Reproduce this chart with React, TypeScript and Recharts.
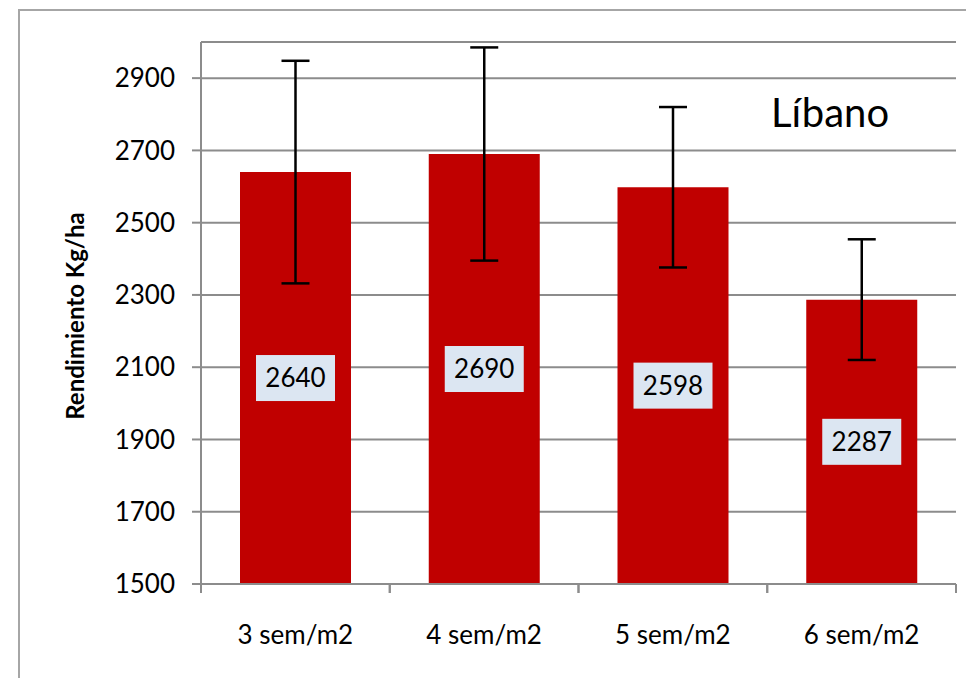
import React from 'react';
import { BarChart, Bar, XAxis, YAxis, CartesianGrid, ErrorBar, LabelList } from 'recharts';

const categories = ['3 sem/m2', '4 sem/m2', '5 sem/m2', '6 sem/m2'];
const rendimiento = [2640, 2690, 2598, 2287];
const errores = [308, 295, 222, 167];
const yTicks = [1500, 1700, 1900, 2100, 2300, 2500, 2700, 2900];

const data = categories.map((c, i) => ({ name: c, value: rendimiento[i], err: errores[i] }));

const FONT = 'Lato, "Open Sans", sans-serif';
const GRID = '#8c8c8c';
const BAND = 188.75;

const XTick = ({ x, y, payload }: any) => (
  <g>
    <line x1={x - BAND / 2} y1={y} x2={x - BAND / 2} y2={y + 9} stroke={GRID} strokeWidth={2} />
    <line x1={x + BAND / 2} y1={y} x2={x + BAND / 2} y2={y + 9} stroke={GRID} strokeWidth={2} />
    <text x={x} y={y + 60} textAnchor="middle" fill="#000" fontSize={26} fontFamily={FONT}>
      {payload.value}
    </text>
  </g>
);

const ValueBox = ({ x, y, width, height, value }: any) => {
  const cx = x + width / 2;
  const cy = y + height / 2;
  return (
    <g>
      <rect x={cx - 39.5} y={cy - 23} width={79} height={46} fill="#dce6f2" />
      <text x={cx} y={cy + 9} textAnchor="middle" fill="#000" fontSize={26} fontFamily={FONT}>
        {value}
      </text>
    </g>
  );
};

const Titles = () => (
  <g>
    <text
      x={66}
      y={308}
      transform="rotate(-90 66 308)"
      textAnchor="middle"
      dominantBaseline="central"
      fontSize={24}
      fontWeight="bold"
      fontFamily={FONT}
      fill="#000"
    >
      Rendimiento Kg/ha
    </text>
    <text x={763} y={119} fontSize={40} fontFamily={FONT} fill="#000">
      Líbano
    </text>
  </g>
);

export default function App() {
  return (
    <div style={{ position: 'relative', width: 966, height: 670, overflow: 'hidden', background: '#fff' }}>
      <div
        style={{
          position: 'absolute',
          left: 10,
          top: 1,
          width: 1200,
          height: 1200,
          borderTop: '2px solid #a6a6a6',
          borderLeft: '2px solid #a6a6a6',
        }}
      />
      <div style={{ position: 'absolute', left: 0, top: 0 }}>
        <BarChart width={966} height={670} data={data} margin={{ top: 34, right: 18, bottom: 0, left: 0 }} barSize={111}>
          <CartesianGrid horizontal vertical={false} stroke={GRID} strokeWidth={2} />
          <XAxis
            dataKey="name"
            axisLine={{ stroke: GRID, strokeWidth: 2 }}
            tickLine={false}
            tickSize={0}
            tickMargin={0}
            height={94}
            tick={<XTick />}
            interval={0}
          />
          <YAxis
            width={193}
            domain={[1500, 3000]}
            ticks={yTicks}
            allowDataOverflow
            axisLine={{ stroke: GRID, strokeWidth: 2 }}
            tickLine={{ stroke: GRID, strokeWidth: 2 }}
            tickSize={9}
            tickMargin={17}
            tick={{ fill: '#000', fontSize: 26, fontFamily: FONT }}
            label={{ content: () => <Titles /> }}
          />
          <Bar dataKey="value" fill="#c00000" isAnimationActive={false}>
            <LabelList dataKey="value" content={<ValueBox />} />
            <ErrorBar dataKey="err" width={14} strokeWidth={2.5} stroke="#000" direction="y" />
          </Bar>
        </BarChart>
      </div>
    </div>
  );
}
